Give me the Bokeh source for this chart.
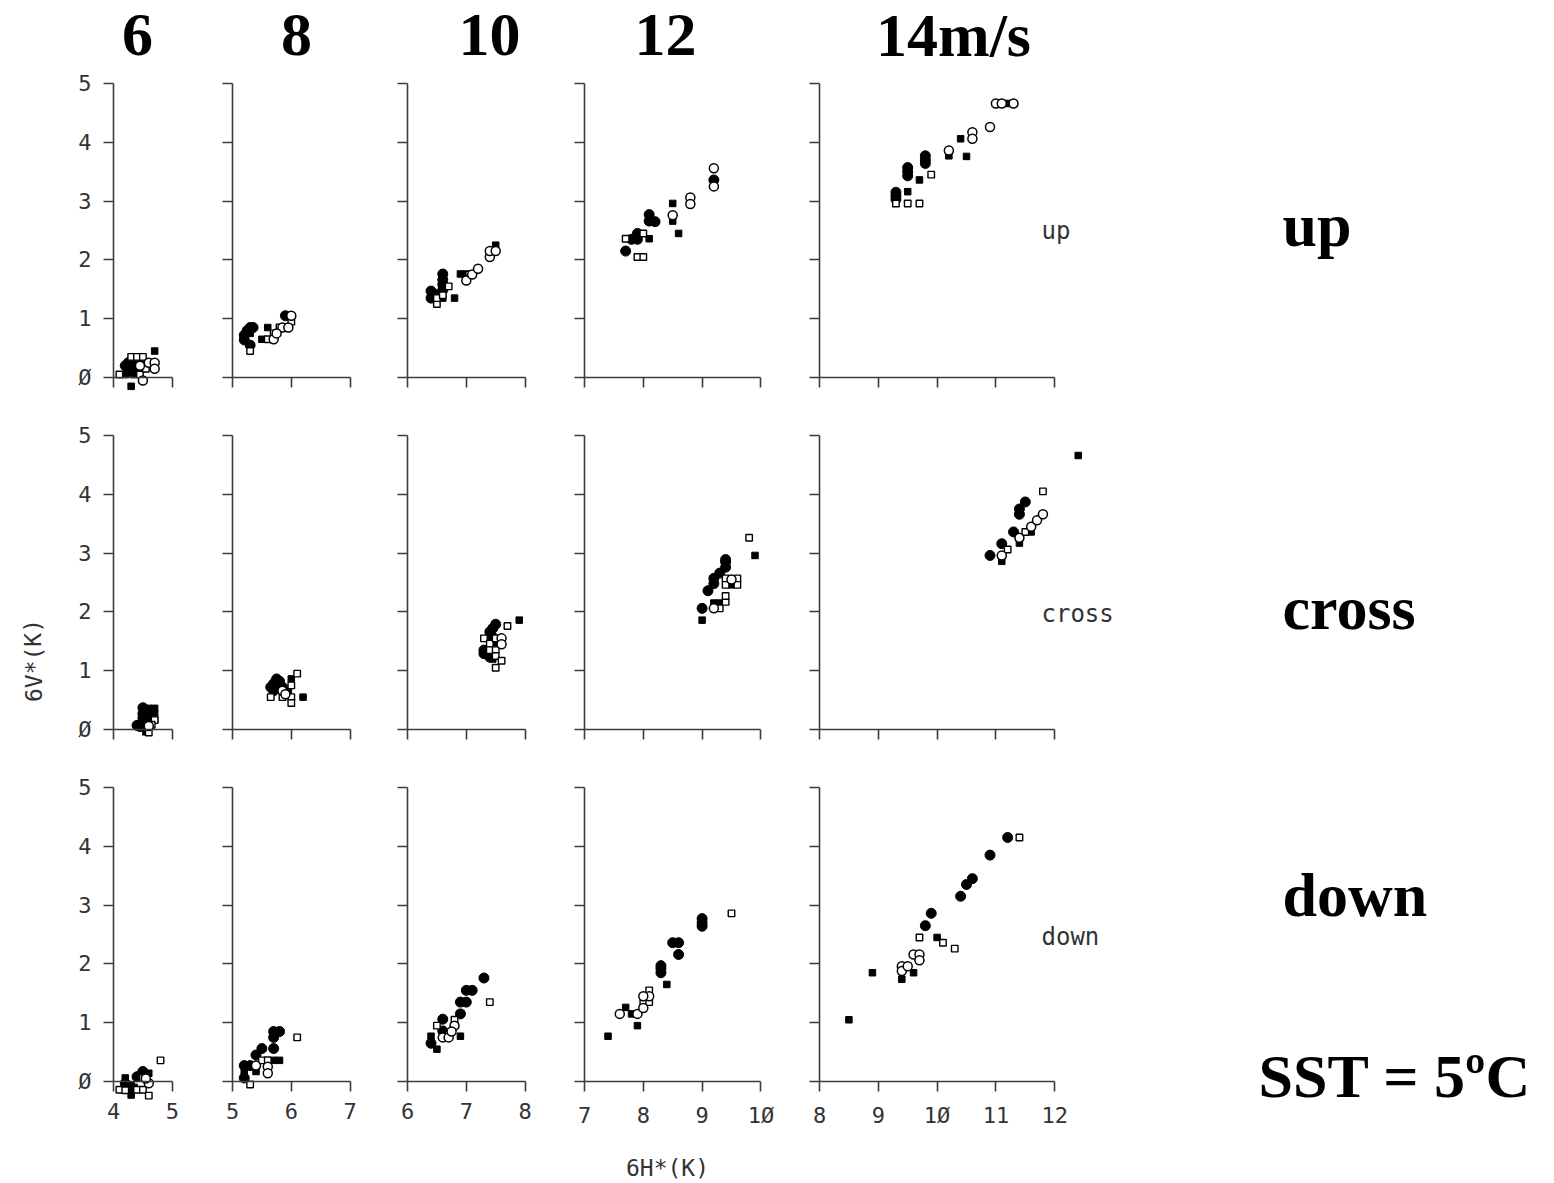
from bokeh.plotting import figure
from bokeh.layouts import column, row
from bokeh.models import LinearAxis, FixedTicker, Label, CustomJSTickFormatter
from bokeh.embed import file_html
from bokeh.resources import INLINE

# ---------------- data ----------------
SPEED_LABELS = ["6", "8", "10", "12", "14m/s"]
DIRECTIONS = ["up", "cross", "down"]
SST_LABEL = "SST = 5ºC"
X_AXIS_SPANS = [(4, 5), (5, 7), (6, 8), (7, 10), (8, 12)]
Y_TICKS = [0, 1, 2, 3, 4, 5]
X_TITLE = "6H*(K)"
Y_TITLE = "6V*(K)"

# fc = filled circle, oc = open circle, fs = filled square, os = open square
up_6 = dict(
    fc=[(4.2, 0.2), (4.25, 0.25), (4.3, 0.15), (4.35, 0.1), (4.25, 0.1), (4.3, 0.25), (4.4, 0.15)],
    oc=[(4.5, -0.05), (4.6, 0.25), (4.7, 0.25), (4.7, 0.15), (4.45, 0.2)],
    fs=[(4.3, -0.15), (4.7, 0.45), (4.35, 0.05), (4.45, 0.25), (4.5, 0.15), (4.2, 0.05)],
    os=[(4.1, 0.05), (4.3, 0.35), (4.4, 0.35), (4.5, 0.35), (4.45, 0.05), (4.55, 0.15)],
)
up_8 = dict(
    fc=[(5.2, 0.72), (5.2, 0.64), (5.25, 0.8), (5.3, 0.85), (5.35, 0.85), (5.3, 0.55), (5.9, 1.05)],
    oc=[(5.7, 0.65), (5.85, 0.85), (5.95, 0.85), (6.0, 1.05), (5.75, 0.75)],
    fs=[(5.5, 0.65), (5.6, 0.85), (5.3, 0.75), (5.95, 1.05)],
    os=[(5.3, 0.45), (5.7, 0.75), (5.6, 0.65), (5.8, 0.85), (6.0, 0.95)],
)
up_10 = dict(
    fc=[(6.4, 1.47), (6.4, 1.35), (6.45, 1.42), (6.6, 1.76), (6.6, 1.66), (6.6, 1.58), (6.6, 1.49), (6.55, 1.4)],
    oc=[(7.0, 1.65), (7.1, 1.75), (7.2, 1.85), (7.4, 2.05), (7.4, 2.15), (7.5, 2.15)],
    fs=[(6.8, 1.35), (6.9, 1.76), (7.0, 1.76), (7.5, 2.25), (6.6, 1.35)],
    os=[(6.5, 1.25), (6.5, 1.35), (6.6, 1.4), (6.7, 1.55), (7.05, 1.75)],
)
up_12 = dict(
    fc=[(7.7, 2.15), (7.8, 2.35), (7.9, 2.35), (7.9, 2.45), (8.1, 2.77), (8.1, 2.66), (8.2, 2.65), (9.2, 3.36)],
    oc=[(8.5, 2.76), (8.8, 3.06), (8.8, 2.95), (9.2, 3.56), (9.2, 3.25)],
    fs=[(8.1, 2.36), (8.5, 2.96), (8.5, 2.66), (8.6, 2.45)],
    os=[(7.7, 2.36), (8.0, 2.45), (7.9, 2.05), (8.0, 2.05)],
)
up_14 = dict(
    fc=[(9.3, 3.15), (9.3, 3.09), (9.3, 3.03), (9.5, 3.57), (9.5, 3.5), (9.5, 3.43),
        (9.8, 3.77), (9.8, 3.7), (9.8, 3.64)],
    oc=[(10.2, 3.86), (10.6, 4.17), (10.6, 4.06), (10.9, 4.26), (11.0, 4.66), (11.1, 4.66), (11.3, 4.66)],
    fs=[(9.5, 3.16), (9.7, 3.36), (10.2, 3.77), (10.4, 4.06), (10.5, 3.76), (11.2, 4.66)],
    os=[(9.3, 2.96), (9.5, 2.96), (9.7, 2.96), (9.9, 3.45)],
)
cross_6 = dict(
    fc=[(4.4, 0.07), (4.45, 0.05), (4.5, 0.37), (4.5, 0.27), (4.5, 0.19), (4.55, 0.3)],
    oc=[(4.6, 0.06)],
    fs=[(4.6, 0.36), (4.7, 0.36), (4.7, 0.27), (4.6, 0.16), (4.7, 0.16), (4.55, -0.04), (4.6, 0.25)],
    os=[(4.7, 0.16), (4.6, -0.05), (4.65, 0.08)],
)
cross_8 = dict(
    fc=[(5.65, 0.72), (5.7, 0.78), (5.75, 0.86), (5.8, 0.82), (5.85, 0.72), (5.7, 0.66)],
    oc=[(5.85, 0.66), (5.9, 0.6)],
    fs=[(6.0, 0.86), (6.2, 0.55), (5.8, 0.7), (5.95, 0.66)],
    os=[(5.65, 0.55), (5.85, 0.55), (6.0, 0.55), (6.0, 0.45), (6.1, 0.95), (6.0, 0.75)],
)
cross_10 = dict(
    fc=[(7.3, 1.35), (7.3, 1.29), (7.4, 1.66), (7.45, 1.72), (7.5, 1.79), (7.4, 1.23), (7.45, 1.57), (7.35, 1.3)],
    oc=[(7.6, 1.55), (7.6, 1.45)],
    fs=[(7.9, 1.86), (7.4, 1.6), (7.5, 1.45), (7.45, 1.2)],
    os=[(7.3, 1.55), (7.4, 1.46), (7.4, 1.35), (7.5, 1.35), (7.5, 1.25), (7.5, 1.05),
        (7.6, 1.17), (7.7, 1.76), (7.5, 1.55)],
)
cross_12 = dict(
    fc=[(9.0, 2.06), (9.1, 2.36), (9.2, 2.48), (9.2, 2.57), (9.3, 2.66), (9.4, 2.76), (9.4, 2.85), (9.4, 2.89)],
    oc=[(9.2, 2.06), (9.5, 2.55)],
    fs=[(9.0, 1.86), (9.2, 2.15), (9.3, 2.15), (9.5, 2.46), (9.9, 2.96)],
    os=[(9.3, 2.06), (9.4, 2.17), (9.4, 2.27), (9.4, 2.57), (9.6, 2.57), (9.4, 2.46), (9.6, 2.46), (9.8, 3.26)],
)
cross_14 = dict(
    fc=[(10.9, 2.96), (11.1, 3.16), (11.3, 3.36), (11.4, 3.66), (11.4, 3.75), (11.5, 3.87)],
    oc=[(11.1, 2.96), (11.4, 3.26), (11.6, 3.45), (11.7, 3.56), (11.8, 3.66)],
    fs=[(11.1, 2.86), (11.4, 3.17), (11.6, 3.36), (12.4, 4.66)],
    os=[(11.2, 3.06), (11.5, 3.36), (11.8, 4.05)],
)
down_6 = dict(
    fc=[(4.2, -0.03), (4.25, -0.08), (4.3, -0.14), (4.4, 0.08), (4.5, 0.17), (4.45, 0.1)],
    oc=[(4.6, -0.03), (4.55, 0.05)],
    fs=[(4.2, 0.06), (4.3, -0.23), (4.3, -0.06), (4.6, 0.14), (4.35, -0.1)],
    os=[(4.1, -0.14), (4.2, -0.15), (4.4, -0.14), (4.5, -0.14), (4.5, 0.06), (4.6, -0.24), (4.8, 0.36)],
)
down_8 = dict(
    fc=[(5.2, 0.06), (5.2, 0.27), (5.3, 0.27), (5.4, 0.45), (5.5, 0.56), (5.7, 0.56),
        (5.7, 0.75), (5.7, 0.85), (5.8, 0.85)],
    oc=[(5.4, 0.27), (5.6, 0.25), (5.6, 0.14)],
    fs=[(5.2, 0.17), (5.4, 0.17), (5.6, 0.36), (5.7, 0.36), (5.8, 0.36)],
    os=[(5.3, -0.05), (5.5, 0.36), (5.6, 0.36), (6.1, 0.75)],
)
down_10 = dict(
    fc=[(6.4, 0.65), (6.6, 1.06), (6.6, 0.86), (6.9, 1.15), (6.9, 1.35), (7.0, 1.35),
        (7.0, 1.55), (7.1, 1.55), (7.3, 1.76)],
    oc=[(6.6, 0.75), (6.7, 0.75), (6.8, 0.95), (6.75, 0.85)],
    fs=[(6.4, 0.77), (6.5, 0.55), (6.9, 0.77), (6.6, 0.8)],
    os=[(6.5, 0.95), (6.7, 0.8), (6.8, 1.05), (7.4, 1.35)],
)
down_12 = dict(
    fc=[(8.3, 1.85), (8.3, 1.92), (8.3, 1.97), (8.5, 2.36), (8.6, 2.36), (8.6, 2.16),
        (9.0, 2.77), (9.0, 2.7), (9.0, 2.64)],
    oc=[(7.6, 1.15), (7.9, 1.15), (8.0, 1.25), (8.1, 1.45), (8.0, 1.45)],
    fs=[(7.4, 0.77), (7.7, 1.26), (7.8, 1.15), (7.9, 0.95), (8.4, 1.65)],
    os=[(8.0, 1.35), (8.1, 1.55), (8.1, 1.35), (9.5, 2.86)],
)
down_14 = dict(
    fc=[(9.8, 2.65), (9.9, 2.86), (10.4, 3.15), (10.5, 3.35), (10.6, 3.45), (10.9, 3.85), (11.2, 4.15)],
    oc=[(9.4, 1.96), (9.4, 1.88), (9.5, 1.96), (9.6, 2.16), (9.7, 2.16), (9.7, 2.06)],
    fs=[(8.5, 1.05), (8.9, 1.85), (9.4, 1.74), (9.6, 1.85), (10.0, 2.45)],
    os=[(9.7, 2.45), (10.1, 2.36), (10.3, 2.26), (11.4, 4.15)],
)

PANELS = [
    [up_6, up_8, up_10, up_12, up_14],
    [cross_6, cross_8, cross_10, cross_12, cross_14],
    [down_6, down_8, down_10, down_12, down_14],
]

# ---------------- layout (pixels) ----------------
U = 58.8  # pixels per data unit (both axes)
COL_LEFT = [0, 203, 378, 555, 790]
COL_W = [203, 175, 177, 235, 760]
COL_SPINE = [113, 232, 407, 584, 819]
ROW_TOP = [0, 406, 758]
ROW_H = [406, 352, 423]
ROW_Y5 = [83, 435, 787]

AXIS_COLOR = "#3c3c3c"
TICK_FONT = "DejaVu Sans Mono"
HEAD_FONT = "Liberation Serif"

STYLES = {
    "fc": dict(marker="circle", size=10, fill_color="black", line_color="black", line_width=1),
    "fs": dict(marker="square", size=6.5, fill_color="black", line_color="black", line_width=1),
    "os": dict(marker="square", size=6.5, fill_color="white", line_color="black", line_width=1.4),
    "oc": dict(marker="circle", size=9, fill_color="white", line_color="black", line_width=1.5),
}
DRAW_ORDER = ["fc", "fs", "os", "oc"]

figs = {}
info = {}


def to_data(r, c, px, py):
    i = info[(r, c)]
    return (i["xs"] + (px - COL_LEFT[c]) / U, i["ye"] - (py - ROW_TOP[r]) / U)


def put_label(r, c, px, py, text, **kw):
    x, y = to_data(r, c, px, py)
    figs[(r, c)].add_layout(Label(x=x, y=y, text=text, **kw))


for r in range(3):
    for c in range(5):
        x0, x1 = X_AXIS_SPANS[c]
        xs = x0 - (COL_SPINE[c] - COL_LEFT[c]) / U
        xe = xs + COL_W[c] / U
        ye = 5 + (ROW_Y5[r] - ROW_TOP[r]) / U
        ys = ye - ROW_H[r] / U
        info[(r, c)] = dict(xs=xs, ye=ye)
        p = figure(width=COL_W[c], height=ROW_H[r], x_range=(xs, xe), y_range=(ys, ye),
                   output_backend="svg", toolbar_location=None,
                   x_axis_location=None, y_axis_location=None,
                   min_border=0, title=None)
        p.outline_line_color = None
        p.background_fill_color = "white"
        p.border_fill_color = "white"
        p.grid.visible = False

        xticks = list(range(x0, x1 + 1))
        xaxis = LinearAxis(fixed_location=0, bounds=(x0, x1), ticker=FixedTicker(ticks=xticks))
        yaxis = LinearAxis(fixed_location=x0, bounds=(0, 5), ticker=FixedTicker(ticks=Y_TICKS))
        for ax in (xaxis, yaxis):
            ax.axis_line_color = AXIS_COLOR
            ax.axis_line_width = 1.6
            ax.major_tick_line_color = AXIS_COLOR
            ax.major_tick_line_width = 1.6
            ax.major_tick_out = 10
            ax.major_tick_in = 0
            ax.minor_tick_out = 0
            ax.minor_tick_in = 0
            ax.major_label_text_font = TICK_FONT
            ax.major_label_text_font_size = "22px"
            ax.major_label_text_color = "#333333"
        if r == 2:
            xaxis.major_label_overrides = {t: str(t).replace("0", "Ø") for t in xticks}
            xaxis.major_label_standoff = 11
        else:
            xaxis.formatter = CustomJSTickFormatter(code="return ''")
        if c == 0:
            yaxis.major_label_overrides = {t: str(t).replace("0", "Ø") for t in Y_TICKS}
            yaxis.major_label_standoff = 12
        else:
            yaxis.formatter = CustomJSTickFormatter(code="return ''")
        p.add_layout(xaxis, "below")
        p.add_layout(yaxis, "left")

        data = PANELS[r][c]
        for key in DRAW_ORDER:
            pts = data[key]
            p.scatter([q[0] for q in pts], [q[1] for q in pts], **STYLES[key])
        figs[(r, c)] = p

# vertical correction of text baselines observed in rendering
BIG_SHIFT = 24
SMALL_SHIFT = 8

# column headers (wind speed)
HEAD_X = [137, 296, 489, 665, 953]
for c, lab in enumerate(SPEED_LABELS):
    put_label(0, c, HEAD_X[c], 58 - BIG_SHIFT, lab, text_font=HEAD_FONT, text_font_style="bold",
              text_font_size="62px", text_align="center", text_baseline="alphabetic",
              text_color="black")

# big direction labels on the right
BIG_Y = [248, 631, 918]
SMALL_Y = [238, 621, 944]
for r, lab in enumerate(DIRECTIONS):
    put_label(r, 4, 1282, BIG_Y[r] - BIG_SHIFT, lab, text_font=HEAD_FONT, text_font_style="bold",
              text_font_size="62px", text_align="left", text_baseline="alphabetic",
              text_color="black")
    put_label(r, 4, 1041, SMALL_Y[r] - SMALL_SHIFT, lab, text_font=TICK_FONT, text_font_size="24px",
              text_align="left", text_baseline="alphabetic", text_color="#333333")

put_label(2, 4, 1258, 1099 - BIG_SHIFT, SST_LABEL, text_font=HEAD_FONT, text_font_style="bold",
          text_font_size="62px", text_align="left", text_baseline="alphabetic", text_color="black")

# axis titles
put_label(2, 3, 667, 1175 - SMALL_SHIFT, X_TITLE, text_font=TICK_FONT, text_font_size="23px",
          text_align="center", text_baseline="alphabetic", text_color="#333333")
put_label(1, 0, 33, 660, Y_TITLE, text_font=TICK_FONT, text_font_size="23px",
          text_align="center", text_baseline="middle", text_color="#333333", angle=1.5708)

layout = column(*[row(*[figs[(r, c)] for c in range(5)]) for r in range(3)])

open("out.html", "w").write(file_html(layout, INLINE))
